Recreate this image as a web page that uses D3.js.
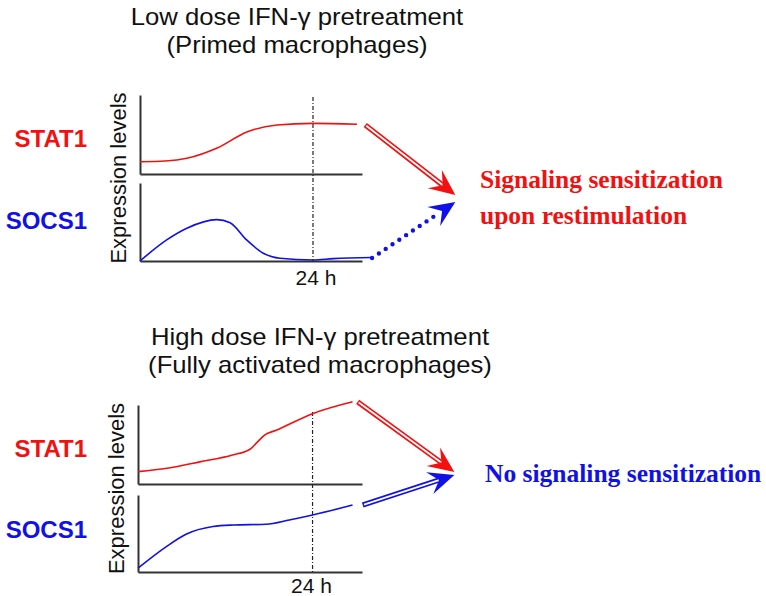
<!DOCTYPE html>
<html>
<head>
<meta charset="utf-8">
<script src="https://cdn.jsdelivr.net/npm/d3@7"></script>
<style>
  html, body { margin: 0; padding: 0; background: #fff; }
  svg { display: block; }
</style>
</head>
<body>
<svg id="chart" width="766" height="596"></svg>
<script>
// ---------------- DATA ----------------
const titlesLow = ["Low dose IFN-\u03b3 pretreatment", "(Primed macrophages)"];
const titlesHigh = ["High dose IFN-\u03b3 pretreatment", "(Fully activated macrophages)"];
const seriesNames = ["STAT1", "SOCS1"];
const yAxisLabel = "Expression levels";
const markerLabel = "24 h";
const markerHour = 24;

// Low dose (hours, relative level)
const stat1LowT = [0, 3.5, 6.5, 10.7, 14.9, 19, 24, 30.1];
const stat1LowV = [0.156, 0.165, 0.199, 0.329, 0.535, 0.62, 0.641, 0.629];
const socs1LowT = [0, 3.7, 6.5, 10.65, 12.5, 14.8, 17.1, 19.4, 24, 26.8, 32.2];
const socs1LowV = [0, 0.27, 0.42, 0.53, 0.49, 0.27, 0.10, 0.035, 0.013, 0.03, 0.045];

// High dose
const stat1HighT = [0, 4, 8.5, 13, 15.4, 16.4, 17.4, 19, 24, 29.5];
const stat1HighV = [0.156, 0.2, 0.28, 0.367, 0.44, 0.53, 0.62, 0.68, 0.89, 1.04];
const socs1HighT = [0, 3.9, 6.6, 10.3, 13.1, 17.6, 20.8, 24, 29.5];
const socs1HighV = [0.05, 0.33, 0.49, 0.59, 0.61, 0.62, 0.675, 0.74, 0.87];

// Outcome texts
const outcomeLow = ["Signaling sensitization", "upon restimulation"];
const outcomeHigh = ["No signaling sensitization"];

// Arrows in panel data units: [startHour, startValue, tipHour, tipValue]
const arrowLowStat1 = [31.25, 0.62, 43.75, -0.266];
const arrowLowSocs1 = [32.2, 0.038, 43.75, 0.756];
const arrowHighStat1 = [30.2, 1.04, 43.5, 0.152];
const arrowHighSocs1 = [30.9, 0.87, 43.5, 1.26];

const timeDomain = [0, 30.8];

// ---------------- STYLE ----------------
const RED = "#f21010";
const BLUE = "#1010e8";
const AXIS = "#333";
const SANS = "'Liberation Sans', Arial, Helvetica, sans-serif";
const SERIF = "'Liberation Serif', 'Times New Roman', serif";

const svg = d3.select("#chart");

function zip(t, v) { return t.map((d, i) => ({ t: d, v: v[i] })); }

function drawArrow(g, p0, p1, color, kind) {
  const dx = p1[0] - p0[0], dy = p1[1] - p0[1];
  const len = Math.hypot(dx, dy);
  const ux = dx / len, uy = dy / len;
  const nx = -uy, ny = ux;
  const L = 26, W = 11.5, notch = 16;
  const back = [p1[0] - ux * L, p1[1] - uy * L];
  const nPt = [p1[0] - ux * notch, p1[1] - uy * notch];
  const shaftEnd = [p1[0] - ux * (notch + 1), p1[1] - uy * (notch + 1)];
  if (kind === "double") {
    g.append("line").attr("x1", p0[0]).attr("y1", p0[1]).attr("x2", shaftEnd[0]).attr("y2", shaftEnd[1])
      .attr("stroke", color).attr("stroke-width", 5.2);
    g.append("line").attr("x1", p0[0] + ux * 1.3).attr("y1", p0[1] + uy * 1.3).attr("x2", shaftEnd[0]).attr("y2", shaftEnd[1])
      .attr("stroke", "#fff").attr("stroke-width", 1.8);
  } else {
    g.append("line").attr("x1", p0[0]).attr("y1", p0[1]).attr("x2", p1[0] - ux * (L - 2)).attr("y2", p1[1] - uy * (L - 2))
      .attr("stroke", color).attr("stroke-width", 4.4)
      .attr("stroke-linecap", "round").attr("stroke-dasharray", "0,8.2");
  }
  const path = d3.path();
  path.moveTo(p1[0], p1[1]);
  path.lineTo(back[0] + nx * W, back[1] + ny * W);
  path.lineTo(nPt[0], nPt[1]);
  path.lineTo(back[0] - nx * W, back[1] - ny * W);
  path.closePath();
  g.append("path").attr("d", path.toString()).attr("fill", color);
}

function drawScenario(cfg) {
  const g = svg.append("g");
  const x = d3.scaleLinear().domain(timeDomain).range([cfg.x0, cfg.xEnd]);
  const yU = d3.scaleLinear().domain([0, 1]).range(cfg.upperY);
  const yL = d3.scaleLinear().domain([0, 1]).range(cfg.lowerY);

  // titles
  const tg = g.append("g").attr("transform", `translate(${cfg.titleX},0) scale(1.07,1)`);
  cfg.titles.forEach((t, i) => {
    tg.append("text").attr("x", 0).attr("y", cfg.titleY + i * 28)
      .attr("text-anchor", "middle").attr("font-family", SANS).attr("font-size", 24)
      .attr("fill", "#111").text(t);
  });

  // axes (no ticks)
  [yU, yL].forEach(ys => {
    const ax = g.append("g").attr("transform", `translate(0,${ys(0)})`)
      .call(d3.axisBottom(x).tickValues([]).tickSizeOuter(0));
    const ay = g.append("g").attr("transform", `translate(${x(0)},0)`)
      .call(d3.axisLeft(ys).tickValues([]).tickSizeOuter(0));
    [ax, ay].forEach(a => a.select(".domain").attr("stroke", AXIS).attr("stroke-width", 2));
  });

  // 24 h marker
  g.append("line")
    .attr("x1", x(markerHour)).attr("x2", x(markerHour))
    .attr("y1", yU(1) + cfg.dashTopPad).attr("y2", yL(0))
    .attr("stroke", "#222").attr("stroke-width", 1.2)
    .attr("stroke-dasharray", "4,2,1,2");
  g.append("text").attr("x", x(markerHour) + cfg.markerDx).attr("y", cfg.markerY)
    .attr("text-anchor", "middle").attr("font-family", SANS).attr("font-size", 21)
    .attr("fill", "#111").text(markerLabel);

  // y label
  g.append("text")
    .attr("transform", `translate(${cfg.x0 - 14},${(yU(1) + yL(0)) / 2}) rotate(-90)`)
    .attr("text-anchor", "middle").attr("font-family", SANS).attr("font-size", 22)
    .attr("fill", "#111").text(yAxisLabel);

  // series labels
  g.append("text").attr("x", 87).attr("y", cfg.stat1LabelY).attr("text-anchor", "end")
    .attr("font-family", SANS).attr("font-weight", "bold").attr("font-size", 24)
    .attr("fill", RED).text(seriesNames[0]);
  g.append("text").attr("x", 87).attr("y", cfg.socs1LabelY).attr("text-anchor", "end")
    .attr("font-family", SANS).attr("font-weight", "bold").attr("font-size", 24)
    .attr("fill", BLUE).text(seriesNames[1]);

  // curves
  const lineU = d3.line().x(d => x(d.t)).y(d => yU(d.v)).curve(d3.curveMonotoneX);
  const lineL = d3.line().x(d => x(d.t)).y(d => yL(d.v)).curve(d3.curveMonotoneX);
  g.append("path").attr("d", lineU(cfg.stat1)).attr("fill", "none")
    .attr("stroke", RED).attr("stroke-width", 1.6);
  g.append("path").attr("d", lineL(cfg.socs1)).attr("fill", "none")
    .attr("stroke", BLUE).attr("stroke-width", 1.6);

  // arrows
  const a1 = cfg.arrowStat1, a2 = cfg.arrowSocs1;
  drawArrow(g, [x(a1[0]), yU(a1[1])], [x(a1[2]), yU(a1[3])], RED, "double");
  drawArrow(g, [x(a2[0]), yL(a2[1])], [x(a2[2]), yL(a2[3])], BLUE, cfg.socs1ArrowKind);

  // outcome text
  cfg.outcome.forEach((t, i) => {
    g.append("text").attr("x", cfg.outcomeX).attr("y", cfg.outcomeY + i * 36)
      .attr("font-family", SERIF).attr("font-weight", "bold").attr("font-size", 25.5)
      .attr("fill", cfg.outcomeColor).text(t);
  });
}

drawScenario({
  titles: titlesLow, titleX: 297, titleY: 25,
  x0: 140, xEnd: 362, upperY: [174, 95], lowerY: [261, 183],
  dashTopPad: 2, markerDx: 3, markerY: 285,
  stat1LabelY: 147, socs1LabelY: 228.5,
  stat1: zip(stat1LowT, stat1LowV), socs1: zip(socs1LowT, socs1LowV),
  arrowStat1: arrowLowStat1, arrowSocs1: arrowLowSocs1, socs1ArrowKind: "dotted",
  outcome: outcomeLow, outcomeX: 480, outcomeY: 188, outcomeColor: RED
});

drawScenario({
  titles: titlesHigh, titleX: 320, titleY: 345,
  x0: 138, xEnd: 362, upperY: [484, 405], lowerY: [572, 495],
  dashTopPad: 7, markerDx: -1, markerY: 593,
  stat1LabelY: 457, socs1LabelY: 538,
  stat1: zip(stat1HighT, stat1HighV), socs1: zip(socs1HighT, socs1HighV),
  arrowStat1: arrowHighStat1, arrowSocs1: arrowHighSocs1, socs1ArrowKind: "double",
  outcome: outcomeHigh, outcomeX: 485, outcomeY: 482, outcomeColor: BLUE
});
</script>
</body>
</html>
